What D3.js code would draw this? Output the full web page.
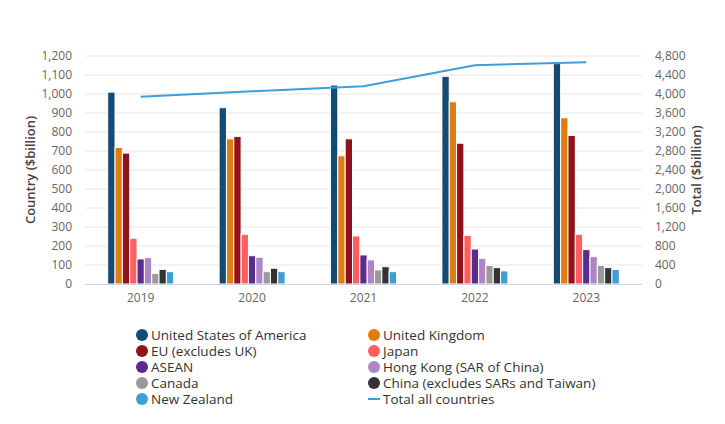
<!DOCTYPE html>
<html><head><meta charset="utf-8">
<script src="https://cdn.jsdelivr.net/npm/d3@7"></script>
<style>body{margin:0;background:#fff;font-family:"Open Sans",sans-serif}</style>
</head><body><svg id="c" width="725" height="424"></svg>
<script>
const years = ["2019","2020","2021","2022","2023"];
const seriesNames = ["United States of America","United Kingdom","EU (excludes UK)","Japan","ASEAN","Hong Kong (SAR of China)","Canada","China (excludes SARs and Taiwan)","New Zealand"];
const seriesColors = ["#154a72","#e07c12","#8f1318","#fd5f5f","#5a2d8c","#ae86c6","#9a9a9a","#333333","#3c9fd6"];
const usa   = [1010, 928, 1047, 1093, 1160];
const uk    = [719, 764, 675, 959, 875];
const eu    = [689, 777, 764, 741, 782];
const japan = [241, 262, 253, 256, 262];
const asean = [132, 149, 153, 184, 181];
const hk    = [139, 141, 127, 135, 144];
const canada= [56, 65, 74, 98, 98];
const china = [77, 83, 91, 86, 86];
const nz    = [65, 65, 65, 69, 77];
const total = [3944, 4056, 4162, 4605, 4668];
const leftTicks = d3.range(0, 1201, 100);
const rightTicks = d3.range(0, 4801, 400);
const totalName = "Total all countries";
const totalColor = "#3d9fd8";

const seriesValues = [usa, uk, eu, japan, asean, hk, canada, china, nz];
const svg = d3.select("#c");
const m = {l:85, r:642, t:56, b:284};
const x = d3.scaleBand().domain(years).range([m.l, m.r]);
const yL = d3.scaleLinear().domain([0,1200]).range([m.b, m.t]);
const yR = d3.scaleLinear().domain([0,4800]).range([m.b, m.t]);
const groupW = 66;
const xs = d3.scaleBand().domain(d3.range(seriesNames.length)).range([0, groupW]);

// grid
svg.append("g").selectAll("line").data(leftTicks.slice(1)).join("line")
  .attr("x1", m.l).attr("x2", m.r).attr("y1", d=>yL(d)).attr("y2", d=>yL(d))
  .attr("stroke", "#e6e6e6").attr("stroke-width", 1);

// axis labels
const fmt = d3.format(",");
svg.append("g").selectAll("text").data(leftTicks).join("text")
  .attr("x", 72).attr("y", d=>yL(d)+4).attr("text-anchor","end")
  .attr("font-size", 12).attr("fill", "#666").text(d=>fmt(d));
svg.append("g").selectAll("text").data(rightTicks).join("text")
  .attr("x", 655).attr("y", d=>yR(d)+4).attr("text-anchor","start")
  .attr("font-size", 12).attr("fill", "#666").text(d=>fmt(d));

svg.append("text").attr("transform", `translate(35,${(m.t+m.b)/2}) rotate(-90)`)
  .attr("text-anchor","middle").attr("font-size", 13).attr("font-weight", 600).attr("fill","#444")
  .text("Country ($billion)");
svg.append("text").attr("transform", `translate(701,${(m.t+m.b)/2}) rotate(-90)`)
  .attr("text-anchor","middle").attr("font-size", 13).attr("font-weight", 600).attr("fill","#444")
  .text("Total ($billion)");

// bars
seriesValues.forEach((vals, si) => {
  svg.append("g").selectAll("rect").data(vals).join("rect")
    .attr("x", (d,i)=> x(years[i]) + x.bandwidth()/2 - groupW/2 + xs(si))
    .attr("width", xs.bandwidth())
    .attr("y", d=>yL(d)).attr("height", d=>yL(0)-yL(d))
    .attr("fill", seriesColors[si]).attr("stroke", "#fff").attr("stroke-width", 1);
});

// baseline
svg.append("line").attr("x1", m.l).attr("x2", m.r).attr("y1", m.b+0.5).attr("y2", m.b+0.5)
  .attr("stroke", "#ccd6eb").attr("stroke-width", 1);

// x labels
svg.append("g").selectAll("text").data(years).join("text")
  .attr("x", d=>x(d)+x.bandwidth()/2).attr("y", 302).attr("text-anchor","middle")
  .attr("font-size", 12).attr("fill","#666").text(d=>d);

// total line
const line = d3.line().x((d,i)=>x(years[i])+x.bandwidth()/2).y(d=>yR(d));
svg.append("path").datum(total).attr("d", line).attr("fill","none")
  .attr("stroke", totalColor).attr("stroke-width", 2);

// legend
const lg = svg.append("g");
const items = seriesNames.map((n,i)=>({n, c:seriesColors[i], type:"dot"}));
items.push({n: totalName, c: totalColor, type: "line"});
items.forEach((it, i) => {
  const col = i % 2, row = Math.floor(i/2);
  const cx = col === 0 ? 142 : 374;
  const cy = 335 + row*16;
  if (it.type === "dot") {
    lg.append("circle").attr("cx", cx).attr("cy", cy).attr("r", 6).attr("fill", it.c);
  } else {
    lg.append("line").attr("x1", cx-6).attr("x2", cx+6).attr("y1", cy).attr("y2", cy)
      .attr("stroke", it.c).attr("stroke-width", 2);
  }
  lg.append("text").attr("x", cx+9).attr("y", cy+4.5).attr("font-size", 13.5).attr("fill","#333").text(it.n);
});
</script></body></html>
